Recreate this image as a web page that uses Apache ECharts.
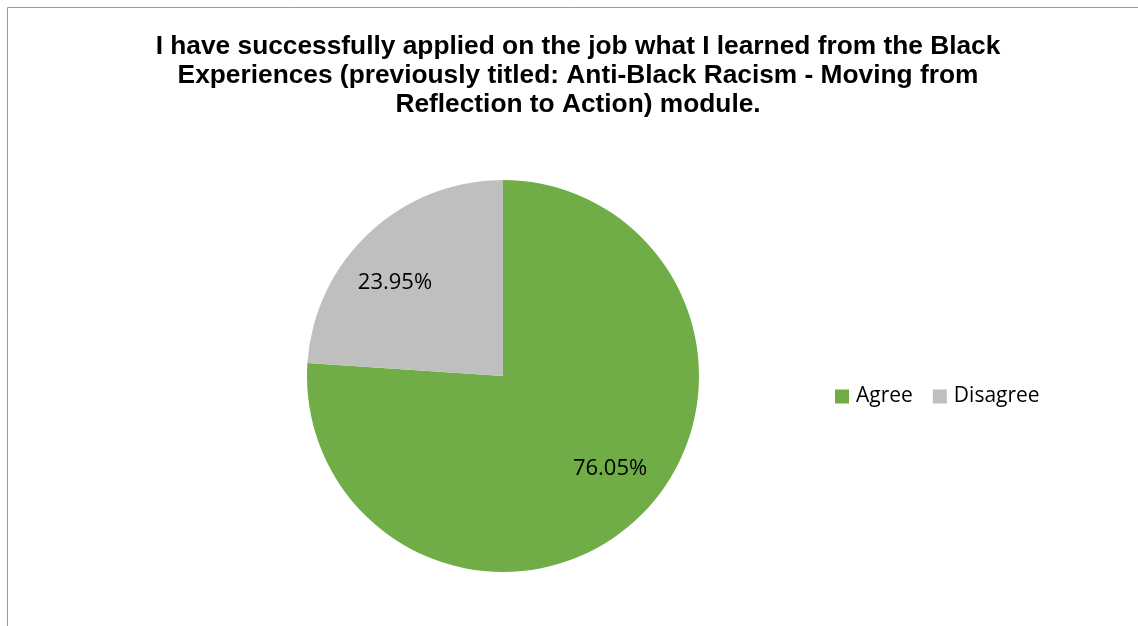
<!DOCTYPE html>
<html>
<head>
<meta charset="utf-8">
<style>
  html, body { margin: 0; padding: 0; background: #fff; }
  #chart { width: 1138px; height: 626px; }
</style>
<script src="https://cdn.jsdelivr.net/npm/echarts@6/dist/echarts.min.js"></script>
</head>
<body>
<div id="chart"></div>
<script>
// Survey responses
const categories = ['Agree', 'Disagree'];
const shares = [76.05, 23.95];
const colors = ['#70AD47', '#BFBFBF'];
const titleText = 'I have successfully applied on the job what I learned from the Black\nExperiences (previously titled: Anti-Black Racism - Moving from\nReflection to Action) module.';

// Nudges for the in-slice percentage labels
const labelShift = [{ dx: 38, dy: 19 }, { dx: -39, dy: -20 }];

const chart = echarts.init(document.getElementById('chart'), null, { renderer: 'canvas' });

chart.setOption({
  backgroundColor: '#ffffff',
  animation: false,
  graphic: [{
    type: 'rect',
    shape: { x: 7.5, y: 7.5, width: 1200, height: 700 },
    style: { fill: 'none', stroke: '#9a9a9a', lineWidth: 1 },
    silent: true
  }],
  title: {
    text: titleText,
    left: 573,
    top: 27,
    textAlign: 'center',
    textStyle: {
      fontFamily: 'Liberation Sans, Arial, sans-serif',
      fontWeight: 'bold',
      fontSize: 26.3,
      lineHeight: 29,
      color: '#000'
    }
  },
  legend: {
    data: categories,
    orient: 'horizontal',
    left: 830,
    top: 381,
    itemWidth: 14,
    itemHeight: 14,
    itemGap: 20,
    icon: 'rect',
    textStyle: {
      fontFamily: '"Open Sans", sans-serif',
      fontSize: 21,
      color: '#000',
      padding: [0, 0, 0, 2]
    }
  },
  series: [{
    type: 'pie',
    center: [503, 376],
    radius: [0, 196],
    startAngle: 90,
    clockwise: true,
    silent: true,
    data: categories.map((c, i) => ({
      name: c,
      value: shares[i],
      itemStyle: { color: colors[i] }
    })),
    label: {
      show: true,
      position: 'inside',
      formatter: p => shares[p.dataIndex].toFixed(2) + '%',
      fontFamily: '"Open Sans", sans-serif',
      fontSize: 22,
      color: '#000'
    },
    labelLine: { show: false },
    labelLayout: p => labelShift[p.dataIndex],
    emphasis: { disabled: true }
  }]
});
</script>
</body>
</html>
